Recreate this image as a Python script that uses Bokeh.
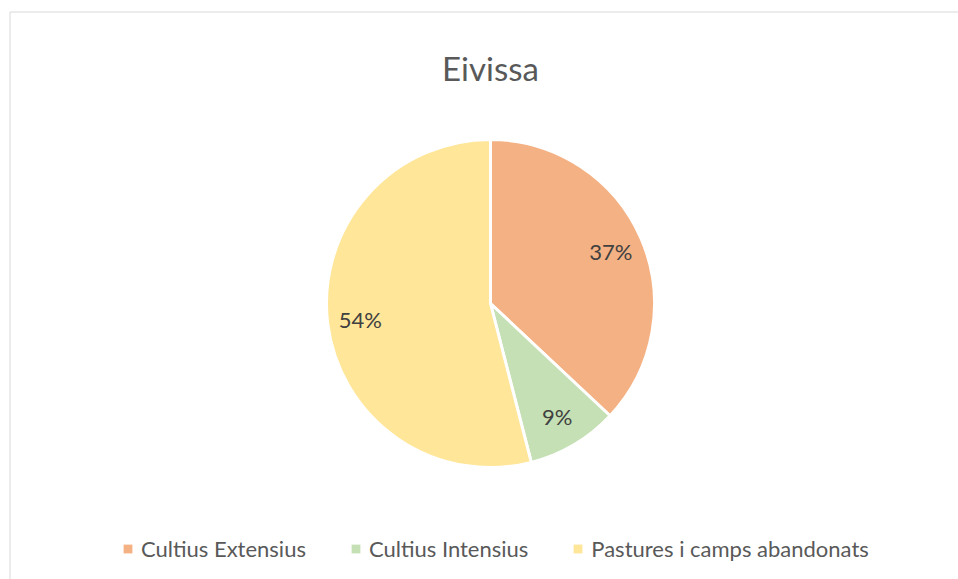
import numpy as np
from bokeh.plotting import figure
from bokeh.models import Range1d, Label, Legend, LegendItem, ColumnDataSource
from bokeh.core.properties import value
from bokeh.embed import file_html
from bokeh.resources import INLINE

title = "Eivissa"
categories = ["Cultius Extensius", "Cultius Intensius", "Pastures i camps abandonats"]
values = [37, 9, 54]
colors = ["#F4B183", "#C5E0B4", "#FFE699"]

FONT = "Lato"
W, H = 958, 579
p = figure(width=W, height=H, output_backend="svg", toolbar_location=None,
           x_range=Range1d(0, W), y_range=Range1d(0, H),
           x_axis_type=None, y_axis_type=None, min_border=0,
           background_fill_color="white", border_fill_color="white")
p.grid.visible = False
p.outline_line_color = None

# chart border (partly cropped)
p.line([9.5, 9.5, W + 5], [-5, H - 11.5, H - 11.5], line_color="#D9D9D9", line_width=1)

cx, cy, R = 490, 276, 164
vals = np.array(values, dtype=float)
frac = vals / vals.sum()
cum = np.concatenate([[0], np.cumsum(frac)])
start = np.pi / 2 - 2 * np.pi * cum[1:]
end = np.pi / 2 - 2 * np.pi * cum[:-1]
src = ColumnDataSource(dict(start=start, end=end, color=colors))
p.wedge(x=cx, y=cy, radius=R, start_angle="start", end_angle="end",
        fill_color="color", line_color="white", line_width=3, source=src)

mid = (cum[:-1] + cum[1:]) / 2
ang = np.pi / 2 - 2 * np.pi * mid
rf = 0.8 * R
lx = cx + rf * np.cos(ang)
ly = cy + rf * np.sin(ang)
labels = [f"{round(f * 100)}%" for f in frac]
p.text(x=lx, y=ly, text=labels, text_align="center", text_baseline="middle",
       text_font=value(FONT), text_font_size="22px", text_color="#404040")

p.add_layout(Label(x=cx, y=512, text=title, text_align="center",
                   text_baseline="alphabetic", text_font=FONT,
                   text_font_size="33px", text_color="#595959"))

items = []
for c, name in zip(colors, categories):
    r = p.quad(left=[-100], right=[-90], top=[-90], bottom=[-100],
               fill_color=c, line_color=None)
    items.append(LegendItem(label=name, renderers=[r]))
leg = Legend(items=items, orientation="horizontal", location=(122, 17),
             glyph_width=11, glyph_height=11, label_standoff=8, spacing=44,
             padding=0, margin=0, background_fill_alpha=0, border_line_color=None,
             label_text_font=FONT, label_text_font_size="22px",
             label_text_color="#595959")
p.add_layout(leg)

open("out.html", "w").write(file_html(p, INLINE))
